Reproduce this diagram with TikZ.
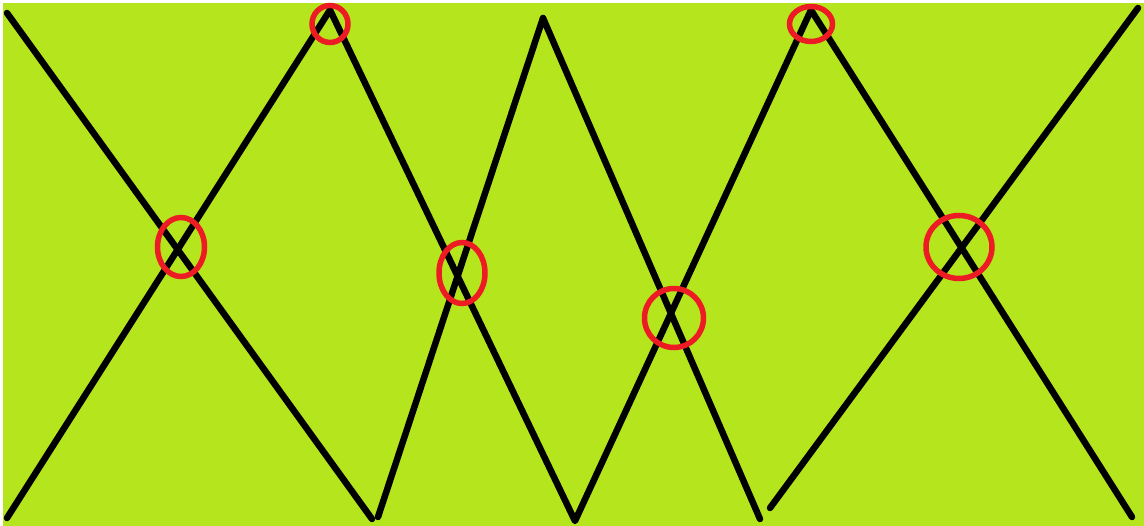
\documentclass[tikz,border=0pt]{standalone}
\definecolor{lime}{HTML}{B5E61D}
\definecolor{paintred}{HTML}{ED1C24}
\begin{document}
\begin{tikzpicture}[x=1pt,y=-1pt,
  blk/.style={line width=6.5pt,black,line cap=round,line join=round},
  ring/.style={line width=5.5pt,paintred}]
\useasboundingbox (0,0) rectangle (1144,526);
\fill[white] (0,0) rectangle (1144,526);
\fill[lime] (3,3) rectangle (1144,526);
% coordinates
\coordinate (a1) at (7,13);
\coordinate (a2) at (372,519);
\coordinate (b1) at (7,518);
\coordinate (p1) at (330,10);
\coordinate (v1) at (575,521);
\coordinate (c1) at (378,517);
\coordinate (p2) at (543,18);
\coordinate (c2) at (760,519);
\coordinate (p3) at (811,10);
\coordinate (d1) at (1132,517);
\coordinate (e1) at (770,508);
\coordinate (e2) at (1138,8);
% black lines
\draw[blk] (a1) -- (a2);
\draw[blk] (b1) -- (p1) -- (v1) -- (p3) -- (d1);
\draw[blk] (c1) -- (p2) -- (c2);
\draw[blk] (e1) -- (e2);
% red rings
\draw[ring] (181,247) ellipse [x radius=23.5, y radius=29.5];
\draw[ring] (462,273) ellipse [x radius=23, y radius=30.5];
\draw[ring] (674,318) ellipse [x radius=29.5, y radius=29.5];
\draw[ring] (959,247) ellipse [x radius=33, y radius=31.5];
\draw[ring] (330,24) ellipse [x radius=18, y radius=18.5];
\draw[ring] (811,24) ellipse [x radius=21.5, y radius=17.5];
\end{tikzpicture}
\end{document}
